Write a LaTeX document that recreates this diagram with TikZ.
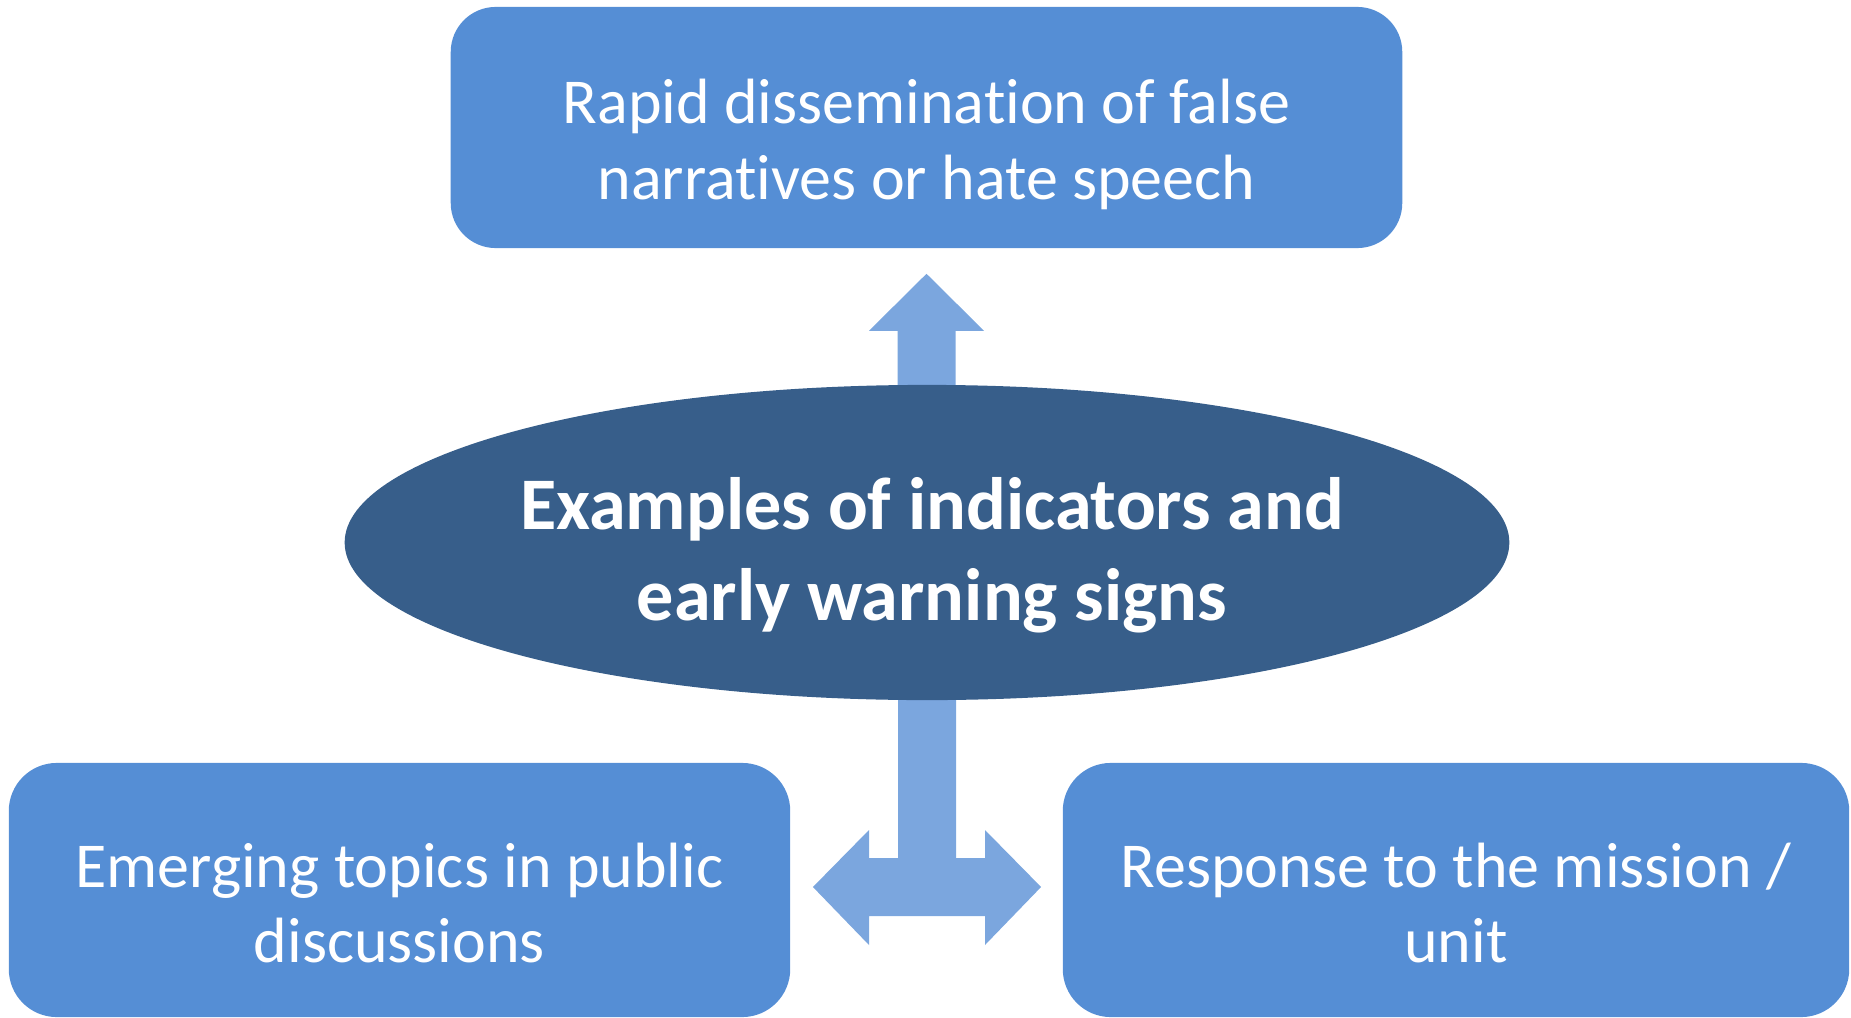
\documentclass[tikz,border=0pt]{standalone}
\usepackage{fontspec}
\setmainfont{Carlito}[Ligatures=NoCommon]
\usetikzlibrary{shapes.geometric, calc}
\definecolor{boxblue}{RGB}{85,142,213}
\definecolor{hubblue}{RGB}{55,94,138}
\definecolor{arrowblue}{RGB}{123,166,222}
\tikzset{
    signbox/.style={rectangle, rounded corners=0.48cm, fill=boxblue, draw=none, minimum height=2.54cm},
    signtext/.style={align=center, text=white, font=\fontsize{18.2}{21.6}\selectfont},
    hub/.style={ellipse, fill=hubblue, draw=none, minimum width=11.64cm, minimum height=3.15cm, inner sep=0pt},
    hubtext/.style={align=center, text=white, font=\fontsize{21.1}{25.9}\selectfont\bfseries},
    blockarrow/.style={fill=arrowblue, draw=none}
}
\begin{document}
\begin{tikzpicture}[x=0.01cm, y=-0.01cm]
        \useasboundingbox (0,0) rectangle (1851,1018);

        % Nodes
        \node (rapid) [signbox, minimum width=9.51cm, minimum height=2.41cm, rounded corners=0.45cm] at (926.5,127.5) {};
        \node (rapidtext) [signtext] at (926.5,144.4) {Rapid dissemination of false\\narratives or hate speech};

        \node (emerging) [signbox, minimum width=7.81cm] at (399.5,890) {};
        \node (emergingtext) [signtext] at (399.5,903) {Emerging topics in public\\discussions};

        \node (response) [signbox, minimum width=7.86cm] at (1456,890) {};
        \node (responsetext) [signtext] at (1456,903) {Response to the mission /\\unit};

        % Arrows
        \coordinate (uptip) at ($(rapid.south)+(0,25)$);
        \fill[blockarrow] (uptip) -- ++(57.5,57) -- ++(-28.5,0) -- ++(0,80) -- ++(-58,0) -- ++(0,-80) -- ++(-28.5,0) -- cycle;

        \coordinate (leftip) at ($(emerging.east)+(22,-3)$);
        \coordinate (rightip) at ($(response.west)+(-21,-3)$);
        \fill[blockarrow] (898,680) -- (898,858) -- (869,858) -- (869,830) -- (leftip) -- (869,945) -- (869,916)
            -- (985,916) -- (985,945) -- (rightip) -- (985,830) -- (985,858) -- (956,858) -- (956,680) -- cycle;

        \node (hub) [hub] at (927,542.5) {};
        \node (hubtext) [hubtext] at (932,555.5) {Examples of indicators and\\early warning signs};

    \end{tikzpicture}
\end{document}
